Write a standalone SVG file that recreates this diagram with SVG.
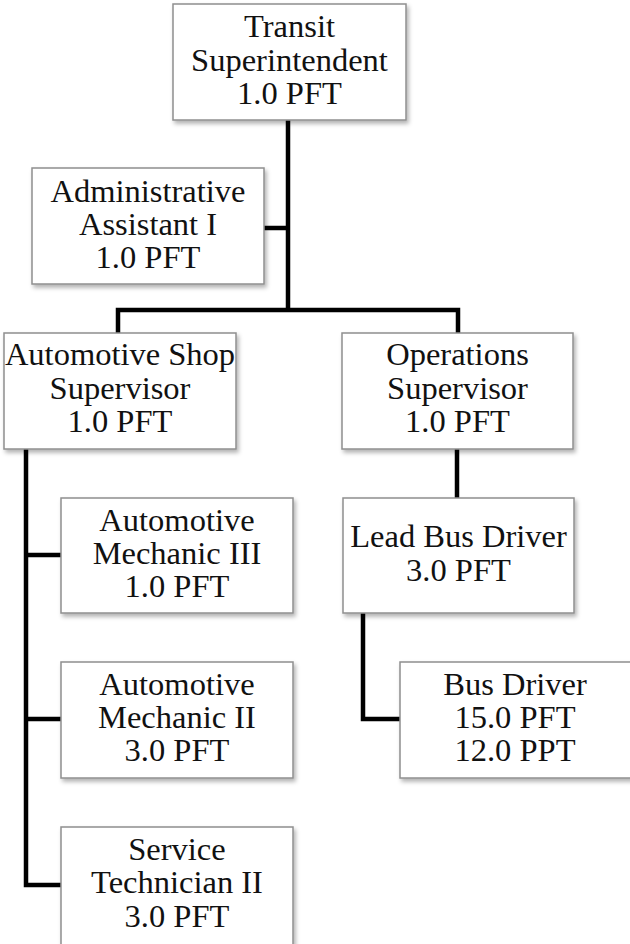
<svg xmlns="http://www.w3.org/2000/svg" width="630" height="944" viewBox="0 0 630 944">
  <defs>
    <filter id="shadow" x="-10%" y="-10%" width="125%" height="130%">
      <feDropShadow dx="2" dy="3" stdDeviation="2" flood-color="#000" flood-opacity="0.3"/>
    </filter>
    <style>
      .box { fill: #ffffff; stroke: #8f8f8f; stroke-width: 1.5; filter: url(#shadow); }
      .lbl { font-family: "Liberation Serif", "Times New Roman", serif; font-size: 32.5px; fill: #111; text-anchor: middle; }
      .link { fill: none; stroke: #000; stroke-width: 4.5; stroke-linejoin: miter; }
    </style>
  </defs>
  <rect width="630" height="944" fill="#ffffff"/>

  <!-- reporting lines -->
  <g id="connectors">
    <path class="link" d="M288 120 V310"/>
    <path class="link" d="M264 228 H288"/>
    <path class="link" d="M118 333 V310 H458 V333"/>
    <path class="link" d="M26 449 V885 H61"/>
    <path class="link" d="M26 555 H61"/>
    <path class="link" d="M26 719 H61"/>
    <path class="link" d="M457 449 V498"/>
    <path class="link" d="M363 613 V719 H400"/>
  </g>

  <g id="transit-superintendent">
    <rect class="box" x="173" y="4" width="233" height="116"/>
    <text class="lbl" x="289.5" y="37">Transit</text>
    <text class="lbl" x="289.5" y="71">Superintendent</text>
    <text class="lbl" x="289.5" y="104">1.0 PFT</text>
  </g>

  <g id="administrative-assistant">
    <rect class="box" x="32" y="168" width="232" height="116"/>
    <text class="lbl" x="148" y="202">Administrative</text>
    <text class="lbl" x="148" y="235">Assistant I</text>
    <text class="lbl" x="148" y="268">1.0 PFT</text>
  </g>

  <g id="automotive-shop-supervisor">
    <rect class="box" x="4" y="333" width="232" height="116"/>
    <text class="lbl" x="120" y="365">Automotive Shop</text>
    <text class="lbl" x="120" y="399">Supervisor</text>
    <text class="lbl" x="120" y="432">1.0 PFT</text>
  </g>

  <g id="operations-supervisor">
    <rect class="box" x="342" y="333" width="231" height="116"/>
    <text class="lbl" x="457.5" y="365">Operations</text>
    <text class="lbl" x="457.5" y="399">Supervisor</text>
    <text class="lbl" x="457.5" y="432">1.0 PFT</text>
  </g>

  <g id="automotive-mechanic-iii">
    <rect class="box" x="61" y="498" width="232" height="115"/>
    <text class="lbl" x="177" y="531">Automotive</text>
    <text class="lbl" x="177" y="564">Mechanic III</text>
    <text class="lbl" x="177" y="597">1.0 PFT</text>
  </g>

  <g id="lead-bus-driver">
    <rect class="box" x="343" y="498" width="231" height="115"/>
    <text class="lbl" x="458.5" y="547">Lead Bus Driver</text>
    <text class="lbl" x="458.5" y="581">3.0 PFT</text>
  </g>

  <g id="automotive-mechanic-ii">
    <rect class="box" x="61" y="662" width="232" height="116"/>
    <text class="lbl" x="177" y="695">Automotive</text>
    <text class="lbl" x="177" y="728">Mechanic II</text>
    <text class="lbl" x="177" y="761">3.0 PFT</text>
  </g>

  <g id="bus-driver">
    <rect class="box" x="400" y="662" width="232" height="116"/>
    <text class="lbl" x="515" y="695">Bus Driver</text>
    <text class="lbl" x="515" y="728">15.0 PFT</text>
    <text class="lbl" x="515" y="761">12.0 PPT</text>
  </g>

  <g id="service-technician-ii">
    <rect class="box" x="61" y="827" width="232" height="120"/>
    <text class="lbl" x="177" y="860">Service</text>
    <text class="lbl" x="177" y="893">Technician II</text>
    <text class="lbl" x="177" y="927">3.0 PFT</text>
  </g>
</svg>
